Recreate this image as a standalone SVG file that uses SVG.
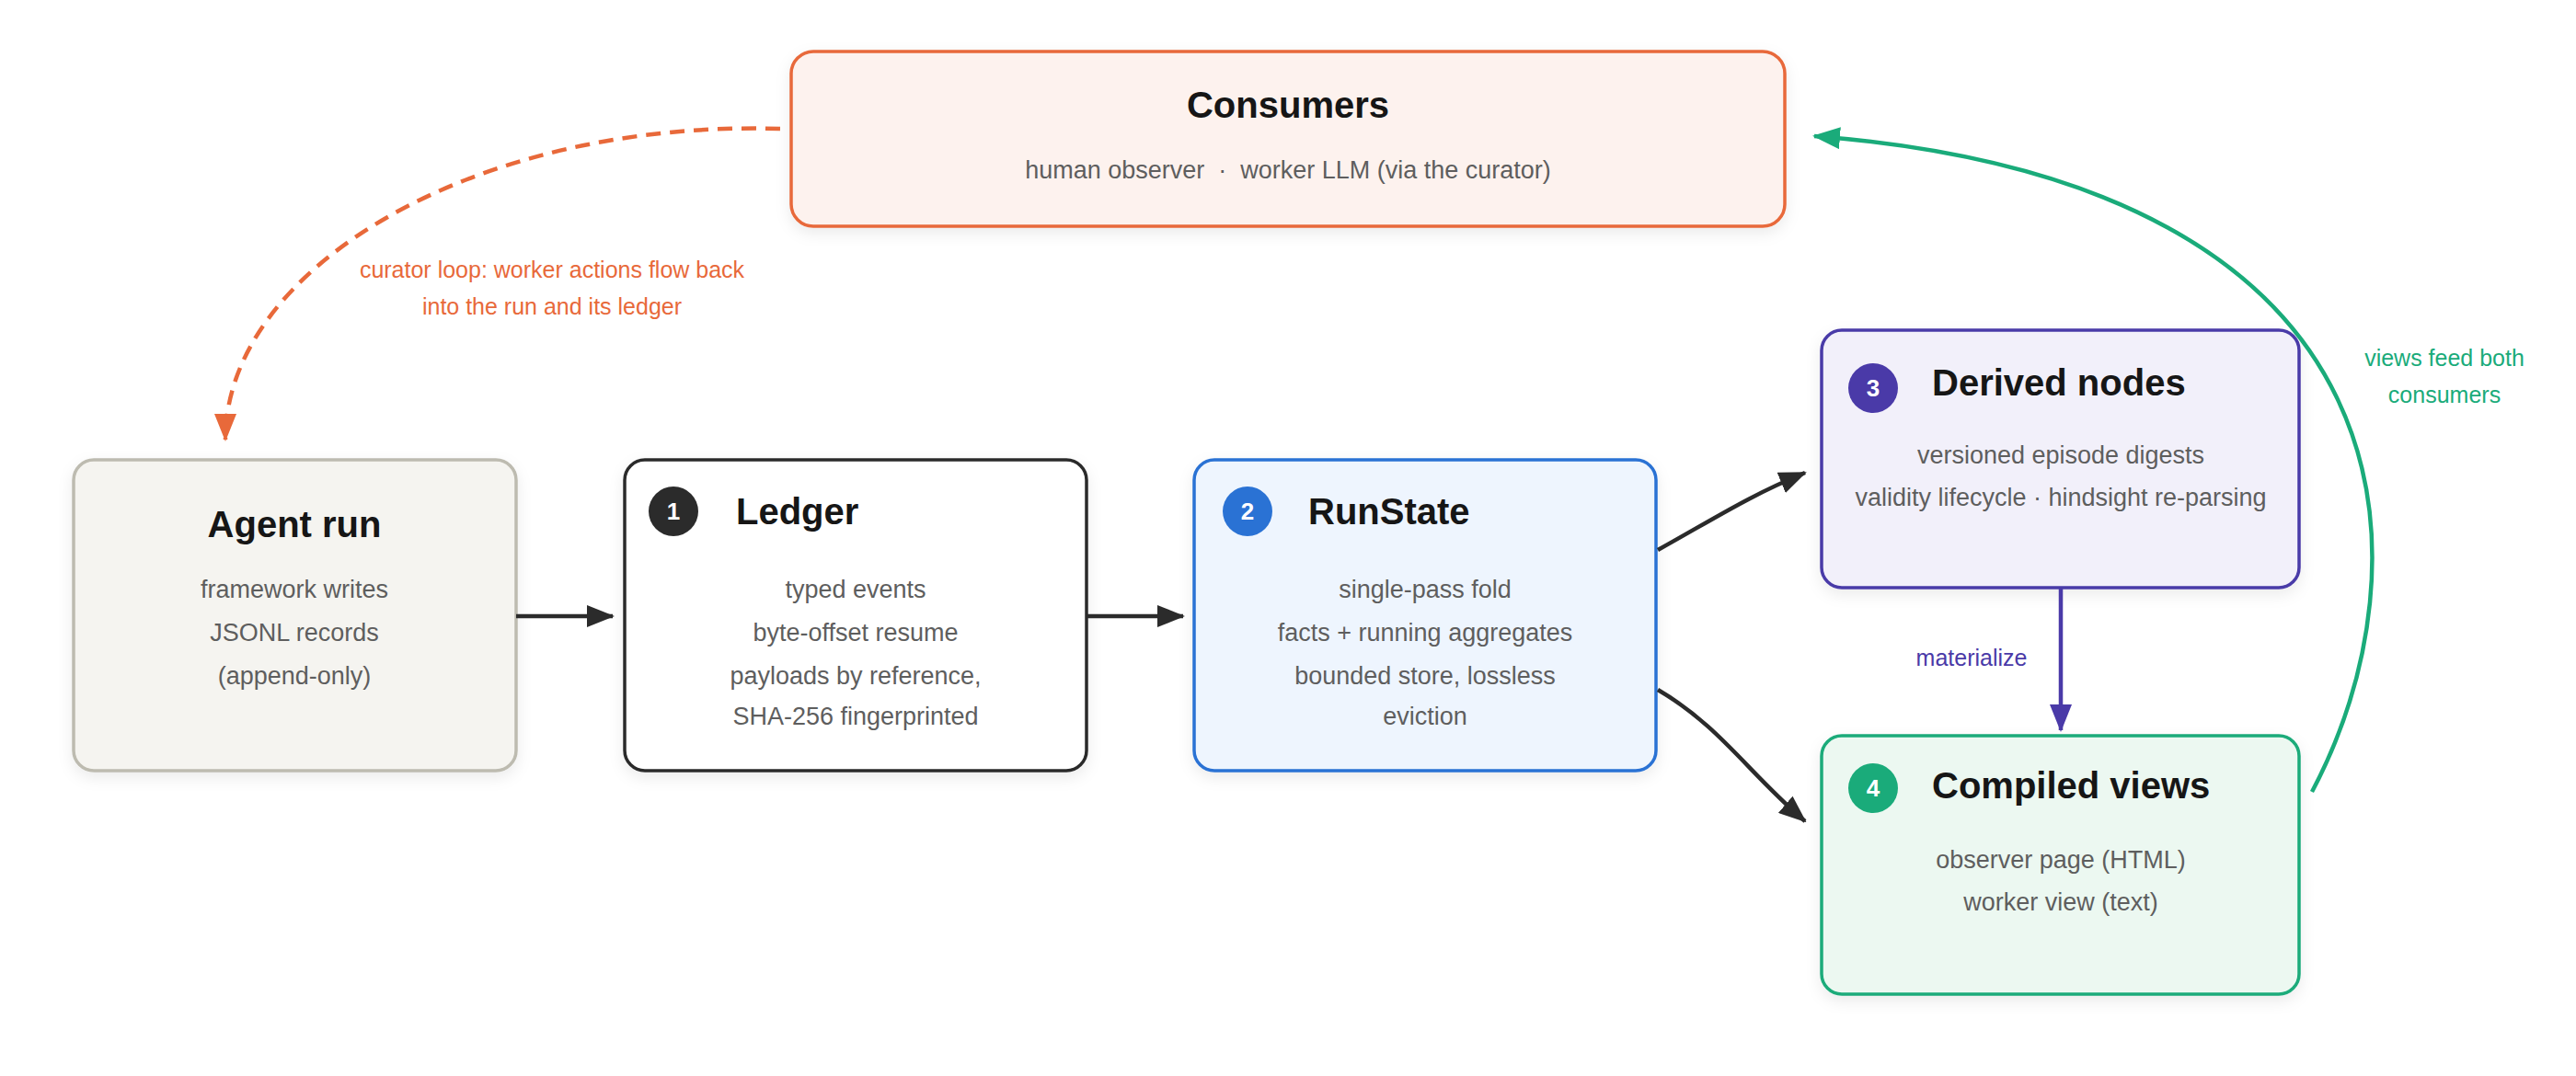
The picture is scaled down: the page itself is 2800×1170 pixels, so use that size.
<svg xmlns="http://www.w3.org/2000/svg" width="2800" height="1170" viewBox="0 0 2800 1170">
<defs>
<filter id="sh" x="-10%" y="-10%" width="120%" height="130%"><feDropShadow dx="0" dy="6" stdDeviation="8" flood-color="#000" flood-opacity="0.08"/></filter>
<marker id="ak" viewBox="0 0 10 10" refX="9" refY="5" markerWidth="7" markerHeight="7" orient="auto" markerUnits="userSpaceOnUse" style="overflow:visible"><path d="M0,0 L10,5 L0,10 z" fill="#2b2b2b" transform="scale(2.6) translate(-6,-5) translate(5,5) translate(-4,-5)"/></marker>
<marker id="mk" markerWidth="30" markerHeight="24" refX="28" refY="12" orient="auto" markerUnits="userSpaceOnUse"><path d="M0,0 L30,12 L0,24 z" fill="#2b2b2b"/></marker>
<marker id="mp" markerWidth="30" markerHeight="24" refX="28" refY="12" orient="auto" markerUnits="userSpaceOnUse"><path d="M0,0 L30,12 L0,24 z" fill="#4a3aa8"/></marker>
<marker id="mo" markerWidth="30" markerHeight="24" refX="28" refY="12" orient="auto" markerUnits="userSpaceOnUse"><path d="M0,0 L30,12 L0,24 z" fill="#e8693a"/></marker>
<marker id="mg" markerWidth="30" markerHeight="24" refX="28" refY="12" orient="auto" markerUnits="userSpaceOnUse"><path d="M0,0 L30,12 L0,24 z" fill="#1aab7a"/></marker>
</defs>
<style>
text{font-family:"Liberation Sans",Arial,sans-serif}
.t{font-size:40px;font-weight:bold;fill:#161616}
.b{font-size:27px;fill:#5e5e5e;text-anchor:middle}
.n{font-size:26px;font-weight:bold;fill:#fff;text-anchor:middle}
.box{stroke-width:3.5;filter:url(#sh)}
.c{fill:none;stroke-width:4.5}
.l{font-size:25px;text-anchor:middle}
</style>
<rect width="2800" height="1170" fill="#fff"/>
<g id="consumers">
<rect class="box" x="860" y="56" width="1080" height="190" rx="24" fill="#fdf2ee" stroke="#e8693a"/>
<text class="t" x="1400" y="128" text-anchor="middle">Consumers</text>
<text class="b" x="1400" y="194" xml:space="preserve">human observer  ·  worker LLM (via the curator)</text>
</g>
<g id="agent-run">
<rect class="box" x="80" y="500" width="481" height="338" rx="22" fill="#f5f4f0" stroke="#bdbbb0"/>
<text class="t" x="320" y="584" text-anchor="middle">Agent run</text>
<text class="b" x="320" y="650">framework writes</text>
<text class="b" x="320" y="697">JSONL records</text>
<text class="b" x="320" y="744">(append-only)</text>
</g>
<g id="ledger">
<rect class="box" x="679" y="500" width="502" height="338" rx="22" fill="#fff" stroke="#2b2b2b"/>
<circle cx="732" cy="556" r="27" fill="#2b2b2b"/><text class="n" x="732" y="565">1</text>
<text class="t" x="800" y="570">Ledger</text>
<text class="b" x="930" y="650">typed events</text>
<text class="b" x="930" y="697">byte-offset resume</text>
<text class="b" x="930" y="744">payloads by reference,</text>
<text class="b" x="930" y="788">SHA-256 fingerprinted</text>
</g>
<g id="runstate">
<rect class="box" x="1298" y="500" width="502" height="338" rx="22" fill="#eef5fe" stroke="#2a72d4"/>
<circle cx="1356" cy="556" r="27" fill="#2a72d4"/><text class="n" x="1356" y="565">2</text>
<text class="t" x="1422" y="570">RunState</text>
<text class="b" x="1549" y="650">single-pass fold</text>
<text class="b" x="1549" y="697">facts + running aggregates</text>
<text class="b" x="1549" y="744">bounded store, lossless</text>
<text class="b" x="1549" y="788">eviction</text>
</g>
<g id="derived">
<rect class="box" x="1980" y="359" width="519" height="280" rx="22" fill="#f2f0fa" stroke="#4a3aa8"/>
<circle cx="2036" cy="422" r="27" fill="#4a3aa8"/><text class="n" x="2036" y="431">3</text>
<text class="t" x="2100" y="430">Derived nodes</text>
<text class="b" x="2240" y="504">versioned episode digests</text>
<text class="b" x="2240" y="550">validity lifecycle · hindsight re-parsing</text>
</g>
<g id="compiled">
<rect class="box" x="1980" y="800" width="519" height="281" rx="22" fill="#ecf8f1" stroke="#1aab7a"/>
<circle cx="2036" cy="857" r="27" fill="#1aab7a"/><text class="n" x="2036" y="866">4</text>
<text class="t" x="2100" y="868">Compiled views</text>
<text class="b" x="2240" y="944">observer page (HTML)</text>
<text class="b" x="2240" y="990">worker view (text)</text>
</g>
<g id="connectors">
<path class="c" stroke="#2b2b2b" d="M561,670 L666,670" marker-end="url(#mk)"/>
<path class="c" stroke="#2b2b2b" d="M1181,670 L1286,670" marker-end="url(#mk)"/>
<path class="c" stroke="#2b2b2b" d="M1802,598 C1870,560 1900,540 1962,514" marker-end="url(#mk)"/>
<path class="c" stroke="#2b2b2b" d="M1802,750 C1870,790 1900,840 1962,893" marker-end="url(#mk)"/>
<path class="c" stroke="#4a3aa8" stroke-width="3.5" d="M2240,640 L2240,794" marker-end="url(#mp)"/>
<text class="l" x="2143" y="724" fill="#4a3aa8">materialize</text>
<path class="c" stroke="#e8693a" stroke-dasharray="16,10" d="M848,140 C520,130 245,290 245,478" marker-end="url(#mo)"/>
<text class="l" x="600" y="302" fill="#e8693a">curator loop: worker actions flow back</text>
<text class="l" x="600" y="342" fill="#e8693a">into the run and its ledger</text>
<path class="c" stroke="#1aab7a" stroke-width="4" d="M2513,861 C2640,620 2640,200 1972,148" marker-end="url(#mg)"/>
<text class="l" x="2657" y="398" fill="#1aab7a">views feed both</text>
<text class="l" x="2657" y="438" fill="#1aab7a">consumers</text>
</g>
</svg>
